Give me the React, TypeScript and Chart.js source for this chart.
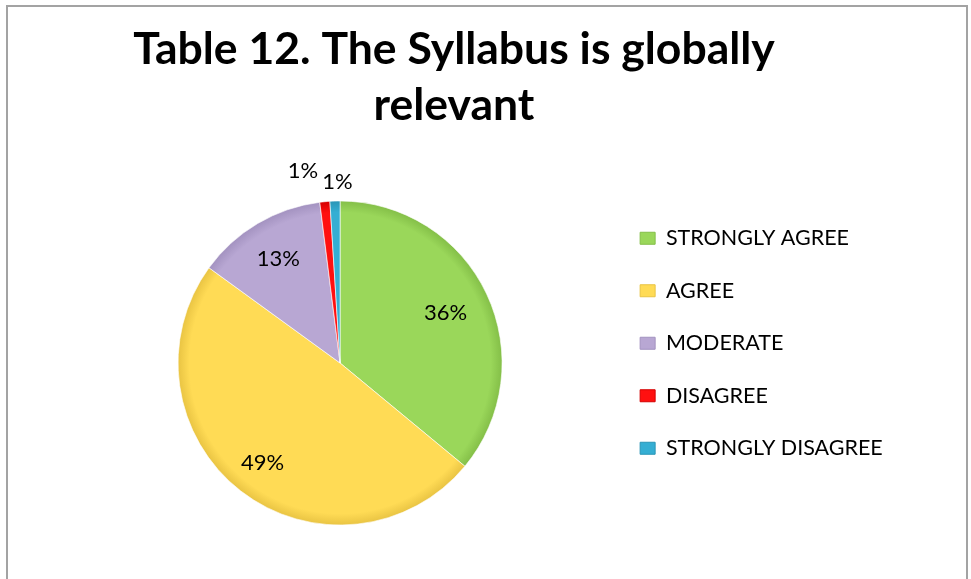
import React, { useEffect, useRef } from "react";
import { Chart, registerables } from "chart.js";

Chart.register(...registerables);

const TITLE_LINES = ["Table 12. The Syllabus is globally", "relevant"];
const CATEGORIES = ["STRONGLY AGREE", "AGREE", "MODERATE", "DISAGREE", "STRONGLY DISAGREE"];
const PERCENTS = [36, 49, 13, 1, 1];
const COLORS = ["#9ad75a", "#ffdb55", "#b8a7d3", "#ff1010", "#35aed3"];
const EDGE_COLORS = ["#84bf48", "#e9c443", "#a392c0", "#d40000", "#2a95b6"];

// label placement (fraction of radius, angular nudge in degrees)
const LABEL_RADIUS = [0.72, 0.78, 0.75, 1.21, 1.12];
const LABEL_SHIFT = [0, 0, 0, -5.5, 1.0];

const FONT = "Lato, 'Open Sans', sans-serif";
const PIE_RADIUS = 162;

const titlePlugin = {
  id: "customTitle",
  afterDraw(chart: any) {
    const ctx = chart.ctx;
    ctx.save();
    ctx.fillStyle = "#000";
    ctx.textAlign = "center";
    ctx.textBaseline = "alphabetic";
    ctx.font = `bold 44.5px ${FONT}`;
    ctx.fillText(TITLE_LINES[0], 446, 57);
    ctx.fillText(TITLE_LINES[1], 446, 113);
    ctx.restore();
  },
};

const labelPlugin = {
  id: "sliceLabels",
  afterDatasetsDraw(chart: any) {
    const ctx = chart.ctx;
    const meta = chart.getDatasetMeta(0);
    ctx.save();
    ctx.fillStyle = "#000";
    ctx.textAlign = "center";
    ctx.textBaseline = "middle";
    ctx.font = `22px ${FONT}`;
    meta.data.forEach((arc: any, i: number) => {
      const p = arc.getProps(["x", "y", "startAngle", "endAngle", "outerRadius"], true);
      const mid = (p.startAngle + p.endAngle) / 2 + (LABEL_SHIFT[i] * Math.PI) / 180;
      const r = p.outerRadius * LABEL_RADIUS[i];
      ctx.fillText(PERCENTS[i] + "%", p.x + Math.cos(mid) * r, p.y + Math.sin(mid) * r);
    });
    ctx.restore();
  },
};

function sliceFill(c: any) {
  const i = c.dataIndex;
  const base = COLORS[i];
  const area = c.chart.chartArea;
  if (!area || c.type !== "data") return base;
  const cx = (area.left + area.right) / 2;
  const cy = (area.top + area.bottom) / 2;
  const g = c.chart.ctx.createRadialGradient(cx, cy, 0, cx, cy, PIE_RADIUS);
  g.addColorStop(0, base);
  g.addColorStop(0.93, base);
  g.addColorStop(1, EDGE_COLORS[i]);
  return g;
}

export default function App() {
  const ref = useRef<HTMLCanvasElement>(null);
  useEffect(() => {
    if (!ref.current) return;
    const chart = new Chart(ref.current, {
      type: "pie",
      data: {
        labels: CATEGORIES,
        datasets: [
          {
            data: PERCENTS,
            backgroundColor: sliceFill,
            borderColor: "rgba(255,255,255,0.6)",
            borderWidth: 1,
            radius: PIE_RADIUS,
          } as any,
        ],
      },
      options: {
        animation: false,
        responsive: false,
        maintainAspectRatio: false,
        layout: { padding: { left: 63, top: 189.5, bottom: 49.5, right: 73.25 } },
        plugins: {
          title: { display: false },
          tooltip: { enabled: false },
          legend: {
            position: "right",
            align: "start",
            labels: {
              color: "#000",
              font: { family: FONT, size: 21.5 },
              boxWidth: 15,
              boxHeight: 12,
              padding: 31,
              generateLabels: (ch: any) =>
                CATEGORIES.map((text, i) => ({
                  text,
                  fillStyle: COLORS[i],
                  strokeStyle: EDGE_COLORS[i],
                  lineWidth: 1,
                  fontColor: "#000",
                  hidden: !ch.getDataVisibility(i),
                  index: i,
                })),
            },
          },
        },
      },
      plugins: [titlePlugin, labelPlugin],
    });
    return () => chart.destroy();
  }, []);

  return (
    <div style={{ position: "fixed", left: 0, top: 0, width: 971, height: 579, background: "#fff", overflow: "hidden" }}>
      <div
        style={{
          position: "absolute",
          left: 6,
          top: 5,
          width: 962,
          height: 600,
          boxSizing: "border-box",
          borderTop: "2px solid #a3a3a3",
          borderLeft: "2px solid #a3a3a3",
          borderRight: "2px solid #a3a3a3",
        }}
      >
        <canvas ref={ref} width={958} height={572} style={{ display: "block", width: 958, height: 572 }} />
      </div>
    </div>
  );
}
